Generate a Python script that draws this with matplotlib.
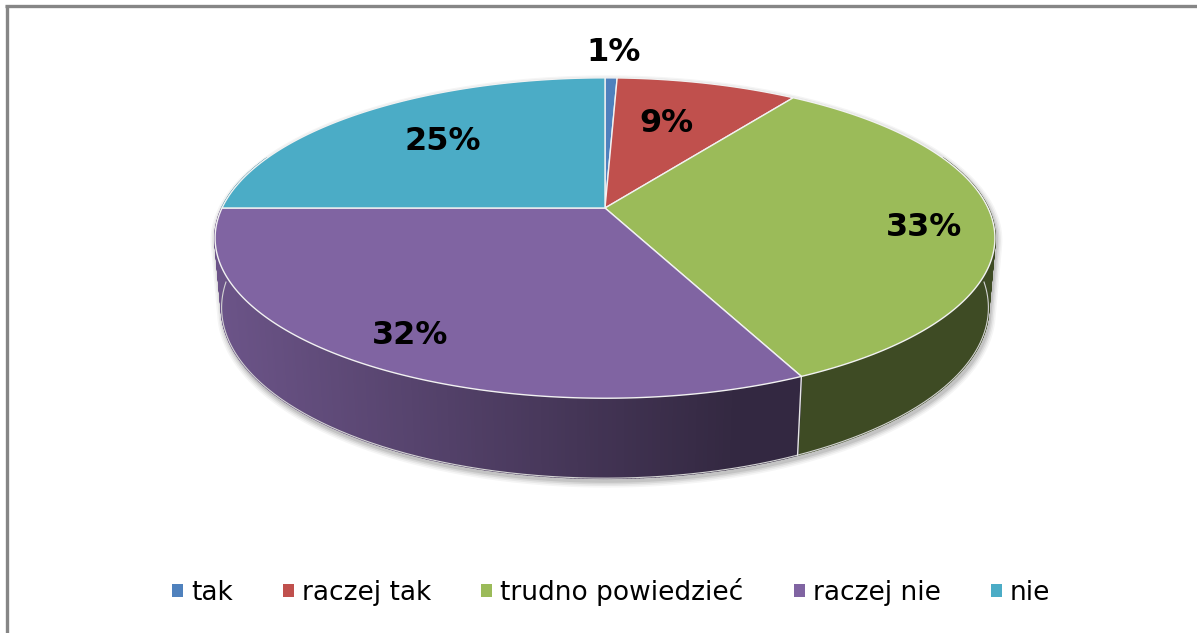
import numpy as np
import matplotlib
matplotlib.use("Agg")
import matplotlib.pyplot as plt
from matplotlib.patches import Polygon, Patch
from matplotlib.collections import PolyCollection
from matplotlib.colors import to_rgb

# ---- data ----
categories = ["tak", "raczej tak", "trudno powiedzieć", "raczej nie", "nie"]
values = [0.6, 9.0, 33.4, 32.0, 25.0]
labels = [f"{round(v)}%" for v in values]
colors = ["#4F81BD", "#C0504D", "#9BBB59", "#8064A2", "#4BACC6"]

W, H = 1197, 633
fig = plt.figure(figsize=(W / 100, H / 100), dpi=100)
ax = fig.add_axes([0, 0, 1, 1])
ax.set_xlim(0, W)
ax.set_ylim(H, 0)
ax.axis("off")

# ---- perspective projection of a 3D pie ----
CX, CY = 605, 208
F = 1869.0
L = 4.88
PHI = np.radians(23.8)
TH = 0.198


def proj(theta_deg, rho=1.0, z=0.0):
    t = np.radians(theta_deg)
    X = rho * np.sin(t)
    Y = rho * np.cos(t)
    depth = Y * np.cos(PHI) + L - z * np.sin(PHI)
    px = CX + F * X / depth
    py = CY - F * (Y * np.sin(PHI) + z * np.cos(PHI)) / depth
    return px, py


total = float(sum(values))
ends = np.cumsum(values) / total * 360.0
starts = np.concatenate([[0.0], ends[:-1]])


# ---- soft shadow around the silhouette ----
def convex_hull(pts):
    pts = sorted(set(map(tuple, pts)))

    def cross(o, a, b):
        return (a[0] - o[0]) * (b[1] - o[1]) - (a[1] - o[1]) * (b[0] - o[0])

    lower, upper = [], []
    for p in pts:
        while len(lower) >= 2 and cross(lower[-2], lower[-1], p) <= 0:
            lower.pop()
        lower.append(p)
    for p in reversed(pts):
        while len(upper) >= 2 and cross(upper[-2], upper[-1], p) <= 0:
            upper.pop()
        upper.append(p)
    return lower[:-1] + upper[:-1]


tt = np.linspace(0, 360, 721)
tx, ty = proj(tt, 1.0, 0.0)
bx, by = proj(tt, 1.0, -TH)
hull = np.array(convex_hull(np.round(np.column_stack([np.concatenate([tx, bx]),
                                                       np.concatenate([ty, by])]), 2)))
hc = hull.mean(axis=0)
hw = (hull[:, 0].max() - hull[:, 0].min()) / 2
hh = (hull[:, 1].max() - hull[:, 1].min()) / 2
for d, a in [(6, 0.04), (4.5, 0.05), (3, 0.07), (1.5, 0.09)]:
    sc = np.array([1 + d / hw, 1 + d / hh])
    poly = (hull - hc) * sc + hc + np.array([1.5, 3.0])
    ax.add_patch(Polygon(poly, closed=True, facecolor="#000000", edgecolor="none",
                         alpha=a, zorder=1))


# ---- side strips (gradient shading) ----
def shade(x):
    return float(np.clip(0.83 - 0.00085 * (x - 230), 0.40, 1.0))


strips, scols, keys = [], [], []
step = 0.5
for s, e, c in zip(starts, ends, colors):
    lo, hi = max(s, 70.0), min(e, 290.0)
    if hi <= lo:
        continue
    n = max(1, int(np.ceil((hi - lo) / step)))
    th = np.linspace(lo, hi, n + 1)
    base = np.array(to_rgb(c))
    for a0, a1 in zip(th[:-1], th[1:]):
        x0, y0 = proj(a0, 1, 0)
        x1, y1 = proj(a1, 1, 0)
        x2, y2 = proj(a1, 1, -TH)
        x3, y3 = proj(a0, 1, -TH)
        strips.append([(x0, y0), (x1, y1), (x2, y2), (x3, y3)])
        f = shade((x0 + x1) / 2)
        scols.append(tuple(base * f))
        keys.append(np.cos(np.radians((a0 + a1) / 2)))
order = np.argsort(keys)[::-1]
pc = PolyCollection([strips[i] for i in order], facecolors=[scols[i] for i in order],
                    edgecolors=[scols[i] for i in order], linewidths=1.3, zorder=2)
ax.add_collection(pc)

# bottom rim light line
fr = np.linspace(92, 268, 300)
rbx, rby = proj(fr, 1, -TH)
ax.plot(rbx, rby, color="#d4d4d4", lw=0.8, zorder=2.5)

# side boundary lines between slices (visible ones)
for e in ends:
    if 95 < e < 265:
        x0, y0 = proj(e, 1, 0)
        x1, y1 = proj(e, 1, -TH)
        ax.plot([x0, x1], [y0, y1], color="#e6e6e6", lw=1.0, zorder=2.6)

# ---- top faces ----
cx0, cy0 = proj(0, 0, 0)
for s, e, c in zip(starts, ends, colors):
    th = np.linspace(s, e, max(3, int((e - s) * 2) + 2))
    ax_, ay_ = proj(th, 1, 0)
    pts = np.column_stack([np.concatenate([[cx0], ax_]), np.concatenate([[cy0], ay_])])
    ax.add_patch(Polygon(pts, closed=True, facecolor=c, edgecolor="#f2f2f2",
                         linewidth=1.0, joinstyle="round", zorder=3))

# ---- labels ----
label_rho = [1.27, 0.66, 0.82, 0.83, 0.68]
label_dth = [0.0, -3.0, 2.5, 0.0, 1.5]
for s, e, lab, r, d in zip(starts, ends, labels, label_rho, label_dth):
    lx, ly = proj((s + e) / 2 + d, r, 0)
    ax.text(lx + 1.5, ly + 3, lab, ha="center", va="center", fontsize=23, fontweight="bold",
            family="DejaVu Sans", color="black", zorder=5)

# ---- border ----
ax.plot([5, W], [6, 6], color="#868686", lw=2.4, solid_capstyle="butt", zorder=6)
ax.plot([7, 7], [5, H], color="#868686", lw=2.4, solid_capstyle="butt", zorder=6)

# ---- legend ----
handles = [Patch(facecolor=c, edgecolor="none") for c in colors]
fig.legend(handles, categories, ncol=5, loc="center", bbox_to_anchor=(611 / W, 1 - 592 / H),
           frameon=False, handlelength=0.42, handleheight=0.42,
           handletextpad=0.3, columnspacing=1.9, prop={"family": "DejaVu Sans", "size": 19})

fig.savefig("out.png", dpi=100)
